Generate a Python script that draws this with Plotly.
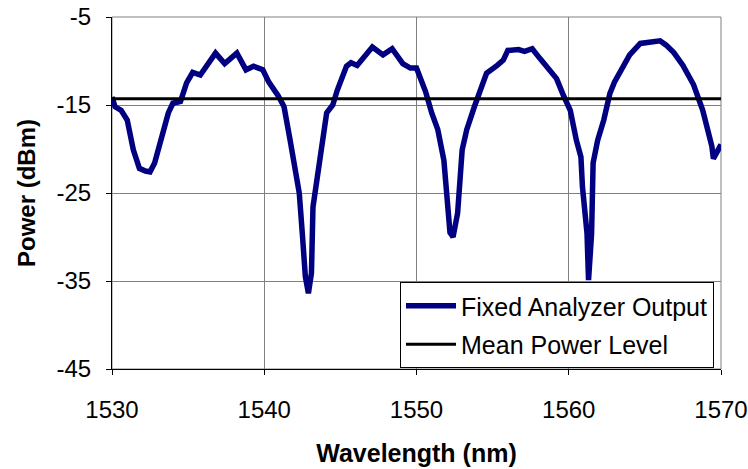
import plotly.graph_objects as go

wavelength_nm = [
    1530.0, 1530.2, 1530.6, 1531.0, 1531.4, 1531.8, 1532.2, 1532.5, 1532.8, 1533.3,
    1533.7, 1534.0, 1534.5, 1534.9, 1535.3, 1535.8, 1536.2, 1536.8, 1537.4, 1538.2,
    1538.8, 1539.3, 1539.9, 1540.3, 1540.9, 1541.3, 1541.7, 1542.3, 1542.5, 1542.7,
    1542.9, 1543.1, 1543.2, 1543.7, 1544.1, 1544.5, 1544.8, 1545.4, 1545.7, 1546.1,
    1546.7, 1547.1, 1547.8, 1548.4, 1549.1, 1549.6, 1550.0, 1550.6, 1551.0, 1551.4,
    1551.8, 1552.0, 1552.2, 1552.4, 1552.7, 1553.0, 1553.3, 1553.8, 1554.2, 1554.6,
    1555.3, 1555.7, 1556.0, 1556.7, 1557.1, 1557.6, 1558.1, 1558.5, 1559.2, 1559.6,
    1560.1, 1560.5, 1560.8, 1560.9, 1561.2, 1561.3, 1561.5, 1561.6, 1561.9, 1562.3,
    1562.7, 1563.0, 1563.6, 1564.0, 1564.7, 1565.2, 1566.0, 1566.4, 1566.9, 1567.5,
    1568.2, 1568.8, 1569.4, 1569.5, 1570.0,
]
power_dbm = [
    -14.1, -15.2, -15.6, -16.7, -20.1, -22.2, -22.5, -22.6, -21.6, -18.6,
    -15.9, -14.8, -14.6, -12.5, -11.3, -11.6, -10.6, -9.1, -10.3, -9.1,
    -11.0, -10.6, -11.0, -12.4, -13.9, -15.2, -19.0, -25.0, -29.6, -34.5,
    -36.4, -34.1, -26.6, -20.5, -15.9, -15.0, -13.3, -10.6, -10.2, -10.5,
    -9.3, -8.4, -9.3, -8.6, -10.3, -10.8, -10.8, -13.5, -15.9, -17.8,
    -21.3, -26.6, -29.5, -30.0, -27.3, -20.1, -17.8, -15.2, -13.3, -11.4,
    -10.5, -9.9, -8.8, -8.7, -8.9, -8.6, -9.7, -10.5, -12.0, -13.7,
    -15.6, -19.0, -20.9, -24.3, -29.6, -34.9, -29.6, -21.6, -19.0, -16.7,
    -13.7, -12.4, -10.5, -9.3, -8.0, -7.9, -7.7, -8.2, -9.05, -10.5,
    -12.7, -15.6, -19.7, -21.1, -19.5,
]
mean_power_x = [1530, 1570]
mean_power_y = [-14.3, -14.3]

x_ticks = [1530, 1540, 1550, 1560, 1570]
y_ticks = [-45, -35, -25, -15, -5]

fig = go.Figure()
fig.add_trace(go.Scatter(
    x=wavelength_nm, y=power_dbm, mode="lines",
    name="Fixed Analyzer Output",
    line=dict(color="#000080", width=5.5),
    legendgroup="a",
))
fig.add_trace(go.Scatter(
    x=mean_power_x, y=mean_power_y, mode="lines",
    name="Mean Power Level",
    line=dict(color="black", width=3),
    legendgroup="b",
))

font = "Liberation Sans, Arial, sans-serif"
fig.update_layout(
    width=748, height=469,
    margin=dict(l=112, r=27, t=17, b=100, autoexpand=False),
    paper_bgcolor="white", plot_bgcolor="white",
    font=dict(family=font, color="black", size=24),
    showlegend=True,
    legend=dict(
        x=(400 - 112) / 609, y=(369 - 282) / 352,
        xanchor="left", yanchor="top",
        bgcolor="white", bordercolor="black", borderwidth=1,
        font=dict(family=font, size=25, color="black"),
        tracegroupgap=3, itemwidth=50,
    ),
    xaxis=dict(
        range=[1530, 1570], tickvals=x_ticks, ticktext=[str(v) for v in x_ticks],
        showgrid=True, gridcolor="#808080", gridwidth=1,
        showline=True, linecolor="black", linewidth=1, mirror=False,
        ticks="outside", ticklen=5, tickcolor="black",
        ticklabelstandoff=14, automargin=False,
        title=dict(text="<b>Wavelength (nm)</b>", font=dict(size=25), standoff=22),
        zeroline=False,
    ),
    yaxis=dict(
        range=[-45, -5], tickvals=y_ticks, ticktext=[str(v) for v in y_ticks],
        showgrid=True, gridcolor="#808080", gridwidth=1,
        showline=True, linecolor="black", linewidth=1,
        ticks="outside", ticklen=5, tickcolor="black",
        ticklabelstandoff=10, automargin=False,
        title=dict(text="<b>Power (dBm)</b>", font=dict(size=24), standoff=14),
        zeroline=False,
    ),
    shapes=[dict(type="rect", xref="paper", yref="paper", x0=0, x1=1, y0=0, y1=1,
                 line=dict(color="#808080", width=1), layer="below")],
)

fig.write_html("out.html")
